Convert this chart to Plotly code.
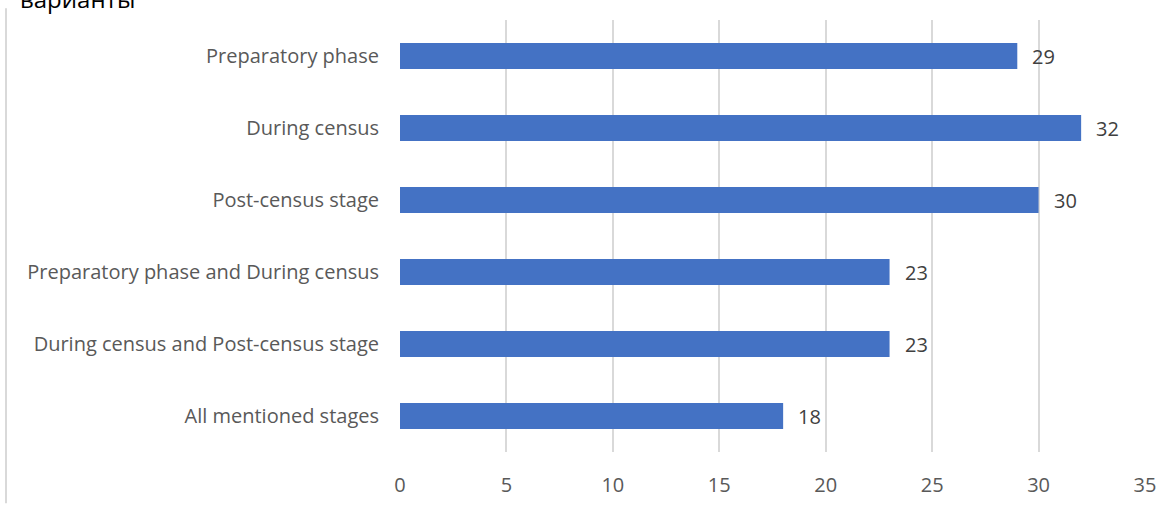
import plotly.graph_objects as go

categories = [
    "Preparatory phase",
    "During census",
    "Post-census stage",
    "Preparatory phase and During census",
    "During census and Post-census stage",
    "All mentioned stages",
]
values = [29, 32, 30, 23, 23, 18]
x_ticks = [0, 5, 10, 15, 20, 25, 30, 35]
title_text = "варианты"

W, H = 1174, 510
ml, mr, mt, mb = 400, 29, 20, 52
pw = W - ml - mr
ph = H - mt - mb
FONT = "Open Sans"
FS = 20

fig = go.Figure()
fig.add_trace(go.Bar(
    x=values, y=categories, orientation="h",
    marker=dict(color="#4472C4", line=dict(width=0)),
    width=0.36, hoverinfo="skip",
))

for v, c in zip(values, categories):
    fig.add_annotation(x=v, y=c, xref="x", yref="y", text=str(v),
                       showarrow=False, xanchor="left", xshift=13,
                       font=dict(family=FONT, size=FS, color="#404040"))

fig.add_annotation(x=(18 - ml) / pw, y=(mt + ph - 17) / ph, xref="paper", yref="paper",
                   text=title_text, showarrow=False, xanchor="left", yanchor="bottom",
                   font=dict(family=FONT, size=24, color="#000000"))

fig.add_shape(type="line", xref="paper", yref="paper",
              x0=(6 - ml) / pw, x1=(6 - ml) / pw,
              y0=(mt + ph - 8) / ph, y1=(mt + ph - H) / ph,
              line=dict(color="#d9d9d9", width=2))

fig.update_layout(
    width=W, height=H,
    margin=dict(l=ml, r=mr, t=mt, b=mb),
    paper_bgcolor="white", plot_bgcolor="white",
    showlegend=False,
    bargap=0.64,
    xaxis=dict(range=[0, 35], tickvals=x_ticks, showgrid=True, gridcolor="#d9d9d9",
               gridwidth=1.5, zeroline=False, showline=False,
               tickfont=dict(family=FONT, size=FS, color="#595959"),
               ticklabelstandoff=19),
    yaxis=dict(categoryorder="array", categoryarray=categories, autorange="reversed",
               showgrid=False, zeroline=False, showline=False,
               tickfont=dict(family=FONT, size=FS, color="#595959"),
               ticklabelstandoff=20),
)

fig.write_html("out.html", config={"displayModeBar": False},
               post_script="document.body.style.margin='0';document.body.style.overflow='hidden';")
